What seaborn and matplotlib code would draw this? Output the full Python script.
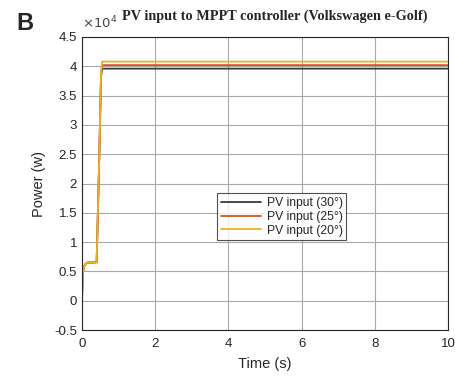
import numpy as np
import pandas as pd
import matplotlib
matplotlib.use("Agg")
import matplotlib.pyplot as plt
from matplotlib.ticker import FuncFormatter
import seaborn as sns

# Simulated PV input power (W) for three panel tilt angles
time_s = [0.0, 0.02, 0.05, 0.10, 0.15, 0.40, 0.47, 0.52, 0.55, 10.0]
pv_30 = [0, 4500, 5800, 6300, 6500, 6550, 24000, 38200, 39600, 39600]
pv_25 = [0, 4500, 5800, 6300, 6500, 6550, 24000, 38600, 40200, 40200]
pv_20 = [0, 4500, 5800, 6300, 6500, 6550, 24000, 39000, 40800, 40800]

series_names = ["PV input (30°)", "PV input (25°)", "PV input (20°)"]
series_colors = ["#3a3a3a", "#D95319", "#EDB120"]

df = pd.concat([
    pd.DataFrame({"Time": time_s, "Power": vals, "Series": name})
    for name, vals in zip(series_names, [pv_30, pv_25, pv_20])
], ignore_index=True)

sns.set_theme(style="white")
plt.rcParams["font.family"] = ["Liberation Sans", "DejaVu Sans"]

fig = plt.figure(figsize=(4.56, 3.76), dpi=100)
ax = fig.add_axes([0.1798, 0.1223, 0.8027, 0.7793])

sns.lineplot(data=df, x="Time", y="Power", hue="Series",
             hue_order=series_names, palette=series_colors,
             linewidth=1.3, ax=ax, estimator=None, sort=False)

ax.set_xlim(0, 10)
ax.set_ylim(-5000, 45000)
ax.set_xticks(np.arange(0, 11, 2))
ax.set_yticks(np.arange(-5000, 45001, 5000))
ax.yaxis.set_major_formatter(FuncFormatter(lambda v, p: f"{v / 1e4:g}"))
ax.tick_params(axis="both", labelsize=9.5, colors="#262626",
               direction="in", length=3, width=0.6)
ax.tick_params(axis="x", pad=6)
ax.grid(True, color="#a8a8a8", linewidth=0.8)

for s in ax.spines.values():
    s.set_visible(True)
    s.set_color("#262626")
    s.set_linewidth(0.8)

ax.set_xlabel("Time (s)", fontsize=10.5, color="#262626", labelpad=5)
ax.set_ylabel("Power (w)", fontsize=10.5, color="#262626", labelpad=6)

leg = ax.legend(loc="center", bbox_to_anchor=(0.546, 0.386), fontsize=8.7,
                frameon=True, fancybox=False, edgecolor="#262626",
                handlelength=3.3, borderpad=0.3, labelspacing=0.15,
                handletextpad=0.5)
leg.get_frame().set_linewidth(0.8)

fig.text(275 / 456, 1 - 16 / 376, "PV input to MPPT controller (Volkswagen e-Golf)",
         ha="center", va="center", fontsize=10.3, fontweight="bold",
         family="Liberation Serif")
fig.text(82 / 456, 1 - 28 / 376, r"$\times10^4$", ha="left", va="baseline",
         fontsize=9.5, color="#444444")
fig.text(24.5 / 456, 1 - 23.5 / 376, "B", ha="center", va="center",
         fontsize=17, fontweight="bold")

fig.savefig("out.png", dpi=100)
